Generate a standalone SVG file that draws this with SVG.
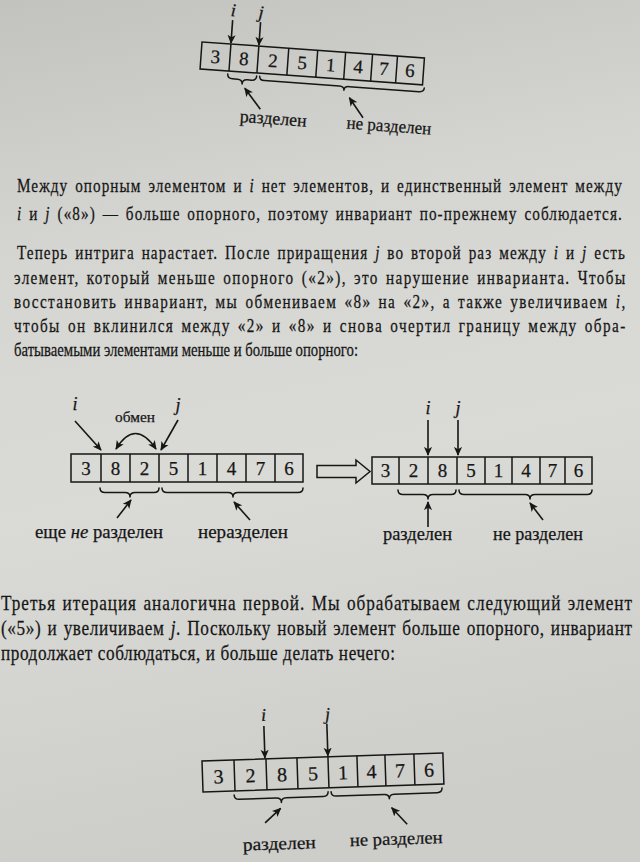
<svg xmlns="http://www.w3.org/2000/svg" width="640" height="862" viewBox="0 0 640 862" font-family="'Liberation Serif', 'DejaVu Serif', serif">
<defs>
<linearGradient id="bg" x1="0" y1="0" x2="0.15" y2="1">
<stop offset="0" stop-color="#c2c2be"/>
<stop offset="0.3" stop-color="#d5d5d1"/>
<stop offset="0.6" stop-color="#dadad6"/>
<stop offset="1" stop-color="#cdcdc9"/>
</linearGradient>
<marker id="ah" viewBox="0 0 10 10" refX="9" refY="5" markerWidth="9" markerHeight="9" markerUnits="userSpaceOnUse" orient="auto-start-reverse">
<path d="M0,0.5 L10,5 L0,9.5 L2.5,5 z" fill="#161616"/>
</marker>
<style>
.t{font-family:'Liberation Serif','DejaVu Serif',serif;fill:#161616;stroke:#161616;stroke-width:0.25}
.p{font-size:19px}
.p3{font-size:20px}
.ws{word-spacing:2.5px}
.ws3{word-spacing:1.5px}
.lb{font-size:18px}
.d{font-size:19px;text-anchor:middle}
.it{font-style:italic}
.cell{fill:none;stroke:#161616;stroke-width:1.5}
.br{fill:none;stroke:#161616;stroke-width:1.5;stroke-linecap:round;stroke-linejoin:round}
.ar{fill:none;stroke:#161616;stroke-width:1.6;marker-end:url(#ah)}
</style>
</defs>
<rect width="640" height="862" fill="url(#bg)"/>

<!-- Diagram 1 -->
<g id="diagram1" transform="translate(202,42) rotate(4.1)">
<g id="d1-array">
<rect class="cell" x="0" y="0" width="223" height="27"/>
<path class="cell" d="M29,0V27M57,0V27M87,0V27M116,0V27M144,0V27M171,0V27M196,0V27"/>
<g class="t d">
<text x="14.5" y="20">3</text><text x="43" y="20">8</text><text x="72" y="20">2</text><text x="101.5" y="20">5</text>
<text x="130" y="20">1</text><text x="157.5" y="20">4</text><text x="183.5" y="20">7</text><text x="209.5" y="20">6</text>
</g>
</g>
<g id="d1-pointers">
<text class="t lb it" x="29" y="-28" text-anchor="middle">i</text>
<text class="t lb it" x="57" y="-28" text-anchor="middle">j</text>
</g>
<g id="d1-labels">
<text class="t lb" x="43" y="77" textLength="67" lengthAdjust="spacingAndGlyphs">разделен</text>
<text class="t lb" x="150" y="76" textLength="85" lengthAdjust="spacingAndGlyphs">не разделен</text>
</g>
<g id="d1-connectors">
<line class="ar" x1="29" y1="-24" x2="29" y2="-1"/>
<line class="ar" x1="57" y1="-24" x2="57" y2="-1"/>
<path class="br" d="M28,30 Q28,34.5 33,34.5 L38,34.5 Q43,34.5 43,39 Q43,34.5 48,34.5 L52,34.5 Q57,34.5 57,30"/>
<path class="br" d="M60,30 Q60,34 65,34 L140,34 Q145,34 145,38 Q145,34 150,34 L220,34 Q225,34 225,30"/>
<line class="ar" x1="63" y1="63" x2="46" y2="43"/>
<line class="ar" x1="166" y1="64" x2="151" y2="45"/>
</g>
</g>

<!-- Paragraph 1 -->
<g id="para1" class="t p">
<text class="ws" transform="translate(17,192) scale(0.8,1)" x="0" y="0" textLength="756" lengthAdjust="spacing">Между опорным элементом и <tspan class="it">i</tspan> нет элементов, и единственный элемент между</text>
<text class="ws" transform="translate(17,220) scale(0.8,1)" x="0" y="0" textLength="756" lengthAdjust="spacing"><tspan class="it">i</tspan> и <tspan class="it">j</tspan> («8») — больше опорного, поэтому инвариант по-прежнему соблюдается.</text>
</g>

<!-- Paragraph 2 -->
<g id="para2" class="t p">
<text class="ws" transform="translate(17,259) scale(0.8,1)" x="0" y="0" textLength="760" lengthAdjust="spacing">Теперь интрига нарастает. После приращения <tspan class="it">j</tspan> во второй раз между <tspan class="it">i</tspan> и <tspan class="it">j</tspan> есть</text>
<text class="ws" transform="translate(14,284) scale(0.8,1)" x="0" y="0" textLength="764" lengthAdjust="spacing">элемент, который меньше опорного («2»), это нарушение инварианта. Чтобы</text>
<text class="ws" transform="translate(14,308) scale(0.8,1)" x="0" y="0" textLength="764" lengthAdjust="spacing">восстановить инвариант, мы обмениваем «8» на «2», а также увеличиваем <tspan class="it">i</tspan>,</text>
<text class="ws" transform="translate(14,332) scale(0.8,1)" x="0" y="0" textLength="764" lengthAdjust="spacing">чтобы он вклинился между «2» и «8» и снова очертил границу между обра-</text>
<text transform="translate(14,356) scale(0.8,1)" x="0" y="0" textLength="430" lengthAdjust="spacingAndGlyphs">батываемыми элементами меньше и больше опорного:</text>
</g>

<!-- Diagram 2 (before swap) -->
<g id="diagram2-before">
<g id="d2a-array">
<rect class="cell" x="71" y="454" width="232" height="28"/>
<path class="cell" d="M101,454V482M130,454V482M159,454V482M188,454V482M217,454V482M246,454V482M275,454V482"/>
<g class="t d">
<text x="86" y="475">3</text><text x="115.5" y="475">8</text><text x="144.5" y="475">2</text><text x="173.5" y="475">5</text>
<text x="202.5" y="475">1</text><text x="231.5" y="475">4</text><text x="260.5" y="475">7</text><text x="289" y="475">6</text>
</g>
</g>
<text class="t lb it" x="75" y="410" text-anchor="middle">i</text>
<text class="t lb it" x="178" y="411" text-anchor="middle">j</text>
<text class="t" x="115" y="422" font-size="15.5" textLength="40" lengthAdjust="spacingAndGlyphs">обмен</text>
<text class="t lb" x="35" y="538" textLength="128" lengthAdjust="spacingAndGlyphs">еще <tspan class="it">не</tspan> разделен</text>
<text class="t lb" x="198" y="538" textLength="90" lengthAdjust="spacingAndGlyphs">неразделен</text>
</g>

<!-- Transition arrow -->
<g id="transition">
<polygon points="317,465.5 356,465.5 356,460 370,471.5 356,483 356,477.5 317,477.5" fill="#d8d8d4" stroke="#161616" stroke-width="1.5" stroke-linejoin="miter"/>
</g>

<!-- Diagram 2 (after swap) -->
<g id="diagram2-after">
<g id="d2b-array">
<rect class="cell" x="372" y="457" width="220" height="27"/>
<path class="cell" d="M399,457V484M428,457V484M457,457V484M485,457V484M512,457V484M540,457V484M565,457V484"/>
<g class="t d">
<text x="385.5" y="477">3</text><text x="413.5" y="477">2</text><text x="442.5" y="477">8</text><text x="471" y="477">5</text>
<text x="498.5" y="477">1</text><text x="526" y="477">4</text><text x="552.5" y="477">7</text><text x="578.5" y="477">6</text>
</g>
</g>
<text class="t lb it" x="428" y="414" text-anchor="middle">i</text>
<text class="t lb it" x="458" y="414" text-anchor="middle">j</text>
<text class="t lb" x="383" y="540" textLength="69" lengthAdjust="spacingAndGlyphs">разделен</text>
<text class="t lb" x="493" y="540" textLength="90" lengthAdjust="spacingAndGlyphs">не разделен</text>
</g>

<!-- Paragraph 3 -->
<g id="para3" class="t p3">
<text class="ws3" transform="translate(1,610) scale(0.86,1)" x="0" y="0" textLength="733.7" lengthAdjust="spacing">Третья итерация аналогична первой. Мы обрабатываем следующий элемент</text>
<text class="ws3" transform="translate(1,635) scale(0.86,1)" x="0" y="0" textLength="733.7" lengthAdjust="spacing">(«5») и увеличиваем <tspan class="it">j</tspan>. Поскольку новый элемент больше опорного, инвариант</text>
<text transform="translate(1,660) scale(0.86,1)" x="0" y="0" textLength="458.1" lengthAdjust="spacing">продолжает соблюдаться, и больше делать нечего:</text>
</g>

<!-- Diagram 3 -->
<g id="diagram3" transform="translate(202,761) rotate(-1.9)">
<g id="d3-array">
<rect class="cell" x="0" y="0" width="241" height="31"/>
<path class="cell" d="M32,0V31M64,0V31M95,0V31M126,0V31M155,0V31M183,0V31M212,0V31"/>
<g class="t d" style="font-size:20px">
<text x="16" y="23">3</text><text x="48" y="23">2</text><text x="79.5" y="23">8</text><text x="110.5" y="23">5</text>
<text x="140.5" y="23">1</text><text x="169" y="23">4</text><text x="197.5" y="23">7</text><text x="226.5" y="23">6</text>
</g>
</g>
<text class="t lb it" x="63" y="-38" text-anchor="middle">i</text>
<text class="t lb it" x="127" y="-37" text-anchor="middle">j</text>
<text class="t lb" x="38" y="91" textLength="73" lengthAdjust="spacingAndGlyphs">разделен</text>
<text class="t lb" x="145" y="90" textLength="93" lengthAdjust="spacingAndGlyphs">не разделен</text>
<g id="d3-connectors">
<line class="ar" x1="63" y1="-33" x2="63" y2="-1"/>
<line class="ar" x1="126" y1="-33" x2="126" y2="-1"/>
<path class="br" d="M31,35 Q31,39.5 36,39.5 L73,39.5 Q78,39.5 78,44 Q78,39.5 83,39.5 L120,39.5 Q125,39.5 125,35"/>
<path class="br" d="M128,35 Q128,39.5 133,39.5 L181,39.5 Q186,39.5 186,44 Q186,39.5 191,39.5 L234,39.5 Q239,39.5 239,35"/>
<line class="ar" x1="61" y1="64" x2="77" y2="50"/>
<line class="ar" x1="203" y1="70" x2="188" y2="53"/>
</g>
</g>

<!-- Connectors of diagram 2 -->
<g id="connectors">
<line class="ar" x1="75" y1="421" x2="101" y2="450"/>
<line class="ar" x1="178" y1="420" x2="161" y2="450"/>
<path class="ar" d="M116,449 Q135,418 156,449" style="marker-start:url(#ah)"/>
<path class="br" d="M100,488 Q100,492.5 105,492.5 L125,492.5 Q130,492.5 130,497 Q130,492.5 135,492.5 L154,492.5 Q159,492.5 159,488"/>
<path class="br" d="M162,488 Q162,492.5 167,492.5 L228,492.5 Q233,492.5 233,497 Q233,492.5 238,492.5 L298,492.5 Q303,492.5 303,488"/>
<line class="ar" x1="117" y1="518" x2="131" y2="500"/>
<line class="ar" x1="250" y1="520" x2="234" y2="502"/>
<line class="ar" x1="428" y1="420" x2="428" y2="455"/>
<line class="ar" x1="458" y1="420" x2="458" y2="455"/>
<path class="br" d="M398,490 Q398,494.5 403,494.5 L423,494.5 Q428,494.5 428,499 Q428,494.5 433,494.5 L451,494.5 Q456,494.5 456,490"/>
<path class="br" d="M459,490 Q459,494.5 464,494.5 L525,494.5 Q530,494.5 530,499 Q530,494.5 535,494.5 L587,494.5 Q592,494.5 592,490"/>
<line class="ar" x1="428" y1="527" x2="428" y2="502"/>
<line class="ar" x1="543" y1="520" x2="530" y2="503"/>
</g>
</svg>
